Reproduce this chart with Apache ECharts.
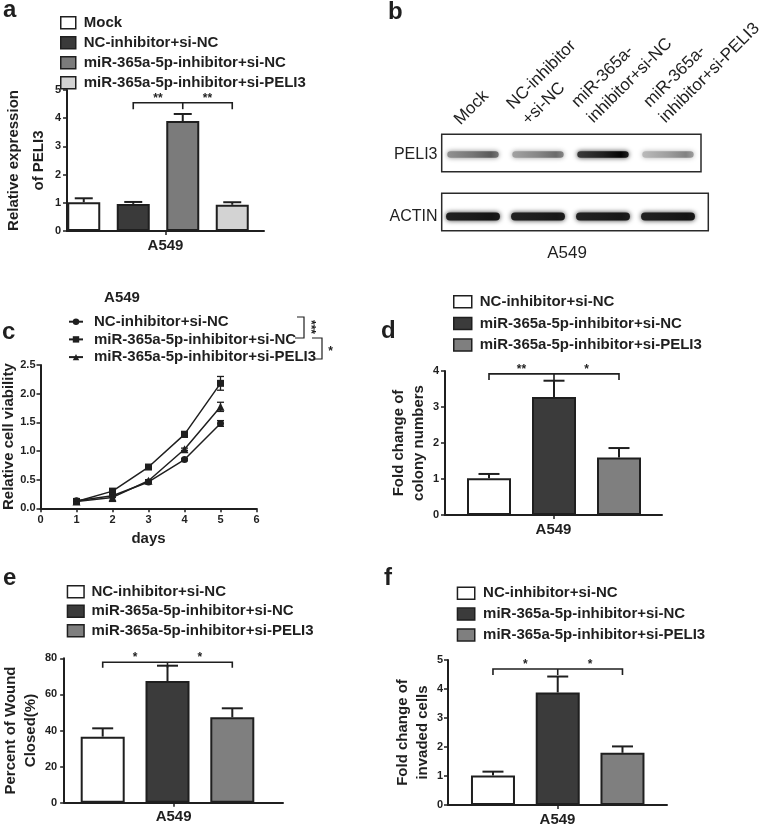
<!DOCTYPE html>
<html>
<head>
<meta charset="utf-8">
<script src="https://cdn.jsdelivr.net/npm/echarts@6/dist/echarts.min.js"></script>
<style>
html,body{margin:0;padding:0;background:#ffffff;}
#chart{width:768px;height:827px;}
</style>
</head>
<body>
<div id="chart"></div>
<script>
// ================= DATA =================
// Panel a
const aGroups = ['Mock', 'NC-inhibitor+si-NC', 'miR-365a-5p-inhibitor+si-NC', 'miR-365a-5p-inhibitor+si-PELI3'];
const aMeans = [1.02, 0.96, 3.90, 0.93];
const aErrors = [0.14, 0.07, 0.25, 0.09];
const aBracket = [1, 2, 3, 4.55, 0.23];   // from, middle, to, level, drop
const aStars = ['**', '**'];
const aYTicks = [0, 5, 1];               // min, max, interval

// Panel b (western blot)
const bLanes = ['Mock', 'NC-inhibitor\n+si-NC', 'miR-365a-\ninhibitor+si-NC', 'miR-365a-\ninhibitor+si-PELI3'];
const bRows = ['ACTIN', 'PELI3'];
const bPELI3 = [0.55, 0.47, 0.95, 0.36];
const bACTIN = [0.97, 0.96, 0.96, 0.97];

// Panel c
const cNames = ['NC-inhibitor+si-NC', 'miR-365a-5p-inhibitor+si-NC', 'miR-365a-5p-inhibitor+si-PELI3'];
const cDays = [1, 2, 3, 4, 5];
const cNC = [0.13, 0.22, 0.46, 0.85, 1.48];
const cNCErr = [0.02, 0.03, 0.02, 0.02, 0.05];
const cMiR = [0.12, 0.30, 0.72, 1.29, 2.18];
const cMiRErr = [0.02, 0.02, 0.02, 0.05, 0.12];
const cPELI3 = [0.12, 0.19, 0.48, 1.03, 1.77];
const cPELI3Err = [0.02, 0.07, 0.02, 0.02, 0.08];
const cXTicks = [0, 6, 1];
const cYTicks = [0, 2.5, 0.5];

// Panels d, e, f
const groups3 = ['NC-inhibitor+si-NC', 'miR-365a-5p-inhibitor+si-NC', 'miR-365a-5p-inhibitor+si-PELI3'];
const dMeans = [1.02, 3.28, 1.60];
const dErrors = [0.12, 0.45, 0.26];
const dBracket = [0, 1, 2, 3.92, 0.17];
const dStars = ['**', '*'];
const dYTicks = [0, 4, 1];

const eMeans = [36.6, 67.4, 47.3];
const eErrors = [4.6, 8.5, 5.0];
const eBracket = [0, 1, 2, 77.8, 3.0];
const eStars = ['*', '*'];
const eYTicks = [0, 80, 20];

const fMeans = [1.02, 3.88, 1.80];
const fErrors = [0.13, 0.55, 0.22];
const fBracket = [0, 1, 2, 4.69, 0.21];
const fStars = ['*', '*'];
const fYTicks = [0, 5, 1];

// ================= STYLE =================
const INK = '#1f1f1f';
const FONT = "'Liberation Sans', Arial, Helvetica, sans-serif";
const aColors = ['#ffffff', '#3a3a3a', '#7b7b7b', '#d3d3d3'];
const triColors = ['#ffffff', '#3b3b3b', '#7f7f7f'];

const axisLineStyle = {show: true, lineStyle: {color: INK, width: 2}};
const axisTickStyle = {show: true, length: 4, lineStyle: {color: INK, width: 1.5}};
function tickLabel(margin) {
  return {color: INK, fontWeight: 'bold', fontSize: 11, fontFamily: FONT, margin: margin};
}
function titleStyle(lh) {
  return {color: INK, fontWeight: 'bold', fontSize: 15, fontFamily: FONT, lineHeight: lh};
}

const option = {
  animation: false,
  backgroundColor: '#ffffff',
  textStyle: {fontFamily: FONT},
  grid: [], xAxis: [], yAxis: [], series: [], legend: [], graphic: []
};

function seg(x1, y1, x2, y2, w) {
  return {type: 'line', shape: {x1: x1, y1: y1, x2: x2, y2: y2}, style: {stroke: INK, lineWidth: w}};
}

function errorUp(capHalf) {
  return function (params, api) {
    const i = api.value(0), m = api.value(1), e = api.value(2);
    const b = api.coord([i, m]);
    const t = api.coord([i, m + e]);
    return {type: 'group', children: [
      seg(b[0], b[1], t[0], t[1], 2),
      seg(t[0] - capHalf, t[1], t[0] + capHalf, t[1], 2)
    ]};
  };
}

function errorBoth(capHalf) {
  return function (params, api) {
    const x = api.value(0), m = api.value(1), e = api.value(2);
    const lo = api.coord([x, m - e]);
    const hi = api.coord([x, m + e]);
    return {type: 'group', children: [
      seg(lo[0], lo[1], hi[0], hi[1], 1.3),
      seg(hi[0] - capHalf, hi[1], hi[0] + capHalf, hi[1], 1.3),
      seg(lo[0] - capHalf, lo[1], lo[0] + capHalf, lo[1], 1.3)
    ]};
  };
}

function bracket(stars) {
  return function (params, api) {
    const f = api.value(0), m = api.value(1), t = api.value(2), lv = api.value(3), dr = api.value(4);
    const pf = api.coord([f, lv]), pm = api.coord([m, lv]), pt = api.coord([t, lv]);
    const low = api.coord([f, lv - dr])[1];
    const starStyle = function (txt, x) {
      return {type: 'text', style: {text: txt, x: x, y: pf[1] - 4.5, textAlign: 'center', textVerticalAlign: 'middle',
        fill: INK, font: 'bold 12px ' + FONT}};
    };
    return {type: 'group', children: [
      {type: 'polyline', shape: {points: [[pf[0], low], [pf[0], pf[1]], [pt[0], pt[1]], [pt[0], low]]},
        style: {stroke: INK, lineWidth: 1.6, fill: null}},
      seg(pm[0], pf[1], pm[0], low, 1.6),
      starStyle(stars[0], (pf[0] + pm[0]) / 2),
      starStyle(stars[1], (pm[0] + pt[0]) / 2)
    ]};
  };
}

function addBarPanel(p) {
  const g = option.grid.length;
  option.grid.push({left: p.axes[0], top: p.axes[1], width: p.axes[2], height: p.axes[3]});
  option.grid.push({left: p.bars[0], top: p.axes[1], width: p.bars[1], height: p.axes[3]});
  const xi = option.xAxis.length;
  option.xAxis.push({
    type: 'category', gridIndex: g, data: ['A549'],
    axisLine: axisLineStyle,
    axisTick: {show: true, alignWithLabel: true, length: 4, lineStyle: {color: INK, width: 1.5}},
    axisLabel: {color: INK, fontWeight: 'bold', fontSize: 15, fontFamily: FONT, margin: 7}
  });
  option.xAxis.push({type: 'category', gridIndex: g + 1, data: p.groups, show: false});
  const yi = option.yAxis.length;
  option.yAxis.push({
    type: 'value', gridIndex: g, min: p.y[0], max: p.y[1], interval: p.y[2],
    name: p.yName, nameLocation: 'middle', nameGap: p.nameGap, nameTextStyle: titleStyle(p.nameLH),
    axisLine: axisLineStyle, axisTick: axisTickStyle, splitLine: {show: false},
    axisLabel: tickLabel(p.labelMargin)
  });
  option.yAxis.push({type: 'value', gridIndex: g + 1, min: p.y[0], max: p.y[1], interval: p.y[2], show: false});
  p.groups.forEach(function (name, i) {
    option.series.push({
      type: 'bar', name: p.key + '|' + name, xAxisIndex: xi + 1, yAxisIndex: yi + 1,
      barWidth: p.barWidth, barGap: '-100%',
      data: p.groups.map(function (_, j) { return j === i ? p.means[i] : '-'; }),
      itemStyle: {color: p.colors[i], borderColor: INK, borderWidth: 2}
    });
  });
  option.series.push({
    type: 'custom', xAxisIndex: xi + 1, yAxisIndex: yi + 1, z: 3,
    renderItem: errorUp(p.capHalf), encode: {x: 0, y: 1},
    data: p.means.map(function (m, i) { return [i, m, p.errors[i]]; })
  });
  option.series.push({
    type: 'custom', xAxisIndex: xi + 1, yAxisIndex: yi + 1, z: 4,
    renderItem: bracket(p.stars), encode: {x: [0, 1, 2], y: 3},
    data: [p.bracket]
  });
  option.legend.push({
    orient: 'vertical', left: p.legend.left, top: p.legend.top, padding: 0,
    itemWidth: p.legend.w, itemHeight: 12, itemGap: p.legend.gap, icon: 'rect', selectedMode: false,
    itemStyle: {borderColor: INK, borderWidth: 1.5},
    textStyle: {color: INK, fontWeight: 'bold', fontSize: 15, lineHeight: 15, fontFamily: FONT, padding: [0, 0, 0, p.legend.pad]},
    formatter: function (n) { return n.split('|')[1]; },
    data: p.groups.map(function (n) { return p.key + '|' + n; })
  });
}

// ----- Panel a -----
addBarPanel({
  key: 'a', groups: aGroups, means: aMeans, errors: aErrors, colors: aColors,
  axes: [50, 90, 214, 141], bars: [59, 198], y: aYTicks,
  yName: 'Relative expression\nof PELI3', nameGap: 2, nameLH: 25, labelMargin: 6,
  barWidth: 33, capHalf: 9, bracket: aBracket, stars: aStars,
  legend: {left: 60, top: 15.2, w: 15, gap: 5, pad: 3}
});

// ----- Panel d -----
addBarPanel({
  key: 'd', groups: groups3, means: dMeans, errors: dErrors, colors: triColors,
  axes: [445, 371, 217, 144], bars: [456.5, 195], y: dYTicks,
  yName: 'Fold change of\ncolony numbers', nameGap: 9, nameLH: 20, labelMargin: 6,
  barWidth: 44, capHalf: 10.5, bracket: dBracket, stars: dStars,
  legend: {left: 453, top: 294.2, w: 18, gap: 6.7, pad: 3}
});

// ----- Panel e -----
addBarPanel({
  key: 'e', groups: groups3, means: eMeans, errors: eErrors, colors: triColors,
  axes: [51, 658.3, 232, 144.4], bars: [70.3, 194.4], y: eYTicks,
  yName: 'Percent of Wound\nClosed(%)', nameGap: 6, nameLH: 20, labelMargin: 7,
  barWidth: 44, capHalf: 10.5, bracket: eBracket, stars: eStars,
  legend: {left: 66.7, top: 584.2, w: 16.6, gap: 4.5, pad: 2.4}
});

// ----- Panel f -----
addBarPanel({
  key: 'f', groups: groups3, means: fMeans, errors: fErrors, colors: triColors,
  axes: [448, 660, 219, 145], bars: [460.6, 194.25], y: fYTicks,
  yName: 'Fold change of\ninvaded cells', nameGap: 8, nameLH: 20, labelMargin: 5,
  barWidth: 44, capHalf: 10.5, bracket: fBracket, stars: fStars,
  legend: {left: 456.7, top: 585.8, w: 17.3, gap: 5.8, pad: 3.3}
});

// ----- Panel c (line chart) -----
(function () {
  const g = option.grid.length;
  option.grid.push({left: 40.5, top: 365, width: 216, height: 143.3});
  const xi = option.xAxis.length, yi = option.yAxis.length;
  option.xAxis.push({
    type: 'value', gridIndex: g, min: cXTicks[0], max: cXTicks[1], interval: cXTicks[2],
    name: 'days', nameLocation: 'middle', nameGap: 23, nameTextStyle: titleStyle(15),
    axisLine: axisLineStyle, axisTick: axisTickStyle, splitLine: {show: false}, axisLabel: tickLabel(6)
  });
  option.yAxis.push({
    type: 'value', gridIndex: g, min: cYTicks[0], max: cYTicks[1], interval: cYTicks[2],
    name: 'Relative cell viability', nameLocation: 'middle', nameGap: 22, nameTextStyle: titleStyle(15),
    axisLine: axisLineStyle, axisTick: axisTickStyle, splitLine: {show: false},
    axisLabel: Object.assign(tickLabel(5), {formatter: function (v) { return v.toFixed(1); }})
  });
  const vals = [cNC, cMiR, cPELI3];
  const errs = [cNCErr, cMiRErr, cPELI3Err];
  const symbols = ['circle', 'rect', 'triangle'];
  const sizes = [7, 7, 8];
  cNames.forEach(function (name, k) {
    option.series.push({
      type: 'line', name: 'c|' + name, xAxisIndex: xi, yAxisIndex: yi,
      symbol: symbols[k], symbolSize: sizes[k],
      lineStyle: {color: INK, width: 1.5}, itemStyle: {color: INK},
      data: cDays.map(function (d, i) { return [d, vals[k][i]]; }), z: 3
    });
    option.series.push({
      type: 'custom', xAxisIndex: xi, yAxisIndex: yi, renderItem: errorBoth(3.5), encode: {x: 0, y: 1}, z: 4,
      data: cDays.map(function (d, i) { return [d, vals[k][i], errs[k][i]]; })
    });
  });
  option.legend.push({
    orient: 'vertical', left: 68, top: 314.2, padding: 0, itemWidth: 14, itemHeight: 8, itemGap: 2.7,
    selectedMode: false,
    textStyle: {color: INK, fontWeight: 'bold', fontSize: 15, lineHeight: 15, fontFamily: FONT, padding: [0, 0, 0, 6]},
    formatter: function (n) { return n.split('|')[1]; },
    data: cNames.map(function (n) { return 'c|' + n; })
  });
})();

// ----- Panel b (blot) -----
(function () {
  const g = option.grid.length;
  option.grid.push({left: 440.5, top: 123.5, width: 260, height: 124});
  const xi = option.xAxis.length, yi = option.yAxis.length;
  option.xAxis.push({type: 'category', gridIndex: g, data: bLanes, show: false});
  option.yAxis.push({
    type: 'category', gridIndex: g, data: bRows,
    axisLine: {show: false}, axisTick: {show: false}, splitLine: {show: false},
    axisLabel: {color: '#222', fontSize: 16, fontFamily: FONT, margin: 3}
  });
  function band(h, wf, shade) {
    return function (params, api) {
      const i = api.value(0), r = api.value(1), v = api.value(2);
      const c = api.coord([i, r]);
      const w = api.size([1, 0])[0] * wf;
      const gr = Math.round(235 - 215 * v);
      const light = Math.min(255, gr + shade), dark = Math.max(0, gr - shade);
      const rgb = function (n) { return 'rgb(' + n + ',' + n + ',' + n + ')'; };
      return {type: 'rect', shape: {x: c[0] - w / 2, y: c[1] - h / 2, width: w, height: h, r: h / 2},
        style: {fill: new echarts.graphic.LinearGradient(0, 0, 1, 0, [
          {offset: 0, color: rgb(light)}, {offset: 0.5, color: rgb(gr)}, {offset: 0.85, color: rgb(dark)}, {offset: 1, color: rgb(gr)}
        ]), shadowBlur: 5, shadowColor: rgb(Math.min(255, gr + 20))}};
    };
  }
  option.series.push({
    type: 'custom', xAxisIndex: xi, yAxisIndex: yi, renderItem: band(6.5, 0.79, 28), encode: {x: 0, y: 1},
    data: bPELI3.map(function (v, i) { return [i, 1, v]; })
  });
  option.series.push({
    type: 'custom', xAxisIndex: xi, yAxisIndex: yi, renderItem: band(8, 0.83, 6), encode: {x: 0, y: 1},
    data: bACTIN.map(function (v, i) { return [i, 0, v]; })
  });
})();

// ----- Graphic annotations -----
function txt(x, y, text, font, align, valign, rot, lh) {
  const st = {text: text, font: font, fill: INK, textAlign: align || 'left', textVerticalAlign: valign || 'middle'};
  if (lh) { st.lineHeight = lh; }
  return {type: 'text', x: x, y: y, rotation: rot || 0, silent: true, style: st};
}
const letterFont = 'bold 24px ' + FONT;
const laneFont = '17px ' + FONT;
option.graphic = [
  txt(3, 10, 'a', letterFont), txt(388, 12, 'b', letterFont), txt(2, 332, 'c', letterFont),
  txt(381, 331, 'd', letterFont), txt(3, 578, 'e', letterFont), txt(384, 578, 'f', letterFont),
  // blot frames
  {type: 'rect', shape: {x: 441.7, y: 134.3, width: 259.3, height: 37.4}, style: {fill: null, stroke: '#2a2a2a', lineWidth: 1.5}, z: 10},
  {type: 'rect', shape: {x: 441.7, y: 193.3, width: 266.6, height: 37.4}, style: {fill: null, stroke: '#2a2a2a', lineWidth: 1.5}, z: 10},
  // lane labels
  txt(465, 130, bLanes[0], laneFont, 'left', 'bottom', Math.PI / 4, 22),
  txt(533, 130, bLanes[1], laneFont, 'left', 'bottom', Math.PI / 4, 22),
  txt(598, 128, bLanes[2], laneFont, 'left', 'bottom', Math.PI / 4, 22),
  txt(670, 128, bLanes[3], laneFont, 'left', 'bottom', Math.PI / 4, 22),
  txt(567, 253, 'A549', '17px ' + FONT, 'center', 'middle'),
  // panel c legend title + significance brackets
  txt(122, 298, 'A549', 'bold 15px ' + FONT, 'center', 'middle'),
  {type: 'polyline', shape: {points: [[297, 317], [304, 317], [304, 338], [295, 338]]}, style: {stroke: INK, lineWidth: 1.2, fill: null}},
  txt(310, 327, '***', 'bold 12px ' + FONT, 'center', 'middle', -Math.PI / 2),
  {type: 'polyline', shape: {points: [[312, 338], [322, 338], [322, 359], [315, 359]]}, style: {stroke: INK, lineWidth: 1.2, fill: null}},
  txt(330.5, 352, '*', 'bold 12px ' + FONT, 'center', 'middle')
];

const chart = echarts.init(document.getElementById('chart'), null, {renderer: 'canvas'});
chart.setOption(option);
</script>
</body>
</html>
